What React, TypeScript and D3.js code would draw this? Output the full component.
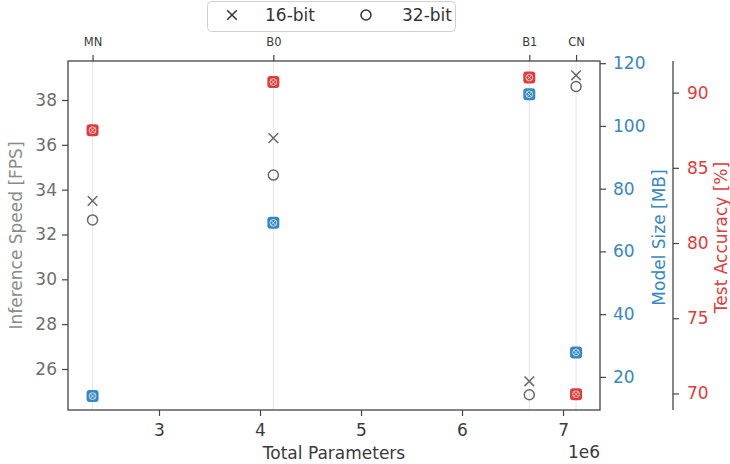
import React, { useRef, useEffect } from "react";
import * as d3 from "d3";

const models = ["MN", "B0", "B1", "CN"];
const params = [2.342e6, 4.132e6, 6.666e6, 7.129e6];
const fps16 = [33.5, 36.3, 25.45, 39.1];
const fps32 = [32.65, 34.65, 24.85, 38.6];
const sizeMB = [13.9, 69.1, 110.1, 27.8];
const accuracy = [87.5, 90.7, 91.0, 69.95];

const xTicks = [3e6, 4e6, 5e6, 6e6, 7e6];
const fpsTicks = [26, 28, 30, 32, 34, 36, 38];
const sizeTicks = [20, 40, 60, 80, 100, 120];
const accTicks = [70, 75, 80, 85, 90];
const legendLabels = ["16-bit", "32-bit"];

const FONT = "DejaVu Sans, sans-serif";
const BLUE = "#3688c4";
const RED = "#df3c3c";
const GRAY = "#6a6a6a";
const SPINE = "#444";

export default function App() {
  const ref = useRef<SVGSVGElement>(null);
  useEffect(() => {
    const svg = d3.select(ref.current);
    svg.selectAll("*").remove();
    const L = 68, R = 600, T = 61, B = 410;
    const x = d3.scaleLinear().domain([2.099e6, 7.366e6]).range([L, R]);
    const yF = d3.scaleLinear().domain([24.17, 39.74]).range([B, T]);
    const yS = d3.scaleLinear().domain([9.45, 120.7]).range([B, T]);
    const yA = d3.scaleLinear().domain([68.9, 92.1]).range([B, T]);

    // gridlines
    svg.append("g").selectAll("line").data(params).join("line")
      .attr("x1", (d) => x(d)).attr("x2", (d) => x(d)).attr("y1", T).attr("y2", B)
      .attr("stroke", "#e6e6e6").attr("stroke-width", 1);

    const styleAxis = (g: any, color: string, size: number) => {
      g.select(".domain").remove();
      g.selectAll("line").attr("stroke", SPINE).attr("stroke-width", 1.2);
      g.selectAll("text").attr("font-family", FONT).attr("font-size", size).attr("fill", color);
    };

    const gl = svg.append("g").attr("transform", `translate(${L},0)`)
      .call(d3.axisLeft(yF).tickValues(fpsTicks).tickSize(6).tickPadding(5));
    styleAxis(gl, "#6e6e6e", 17);

    const gb = svg.append("g").attr("transform", `translate(0,${B})`)
      .call(d3.axisBottom(x).tickValues(xTicks).tickSize(6).tickPadding(8).tickFormat((d: any) => String(d / 1e6)));
    styleAxis(gb, "#3a3a3a", 17);

    const gt = svg.append("g").attr("transform", `translate(0,${T})`)
      .call(d3.axisTop(x).tickValues(params).tickSize(6).tickPadding(9).tickFormat((d: any, i: number) => models[i]));
    styleAxis(gt, "#3a3a3a", 11.5);

    const gs = svg.append("g").attr("transform", `translate(${R},0)`)
      .call(d3.axisRight(yS).tickValues(sizeTicks).tickSize(6).tickPadding(7));
    styleAxis(gs, BLUE, 17);

    const AX = 673;
    const ga = svg.append("g").attr("transform", `translate(${AX},0)`)
      .call(d3.axisRight(yA).tickValues(accTicks).tickSize(6).tickPadding(8));
    styleAxis(ga, RED, 17);

    // spines
    svg.append("rect").attr("x", L).attr("y", T).attr("width", R - L).attr("height", B - T)
      .attr("fill", "none").attr("stroke", SPINE).attr("stroke-width", 1.3);
    svg.append("line").attr("x1", AX).attr("x2", AX).attr("y1", T).attr("y2", B)
      .attr("stroke", SPINE).attr("stroke-width", 1.3);

    // axis labels
    svg.append("text").attr("transform", `translate(22,${(T + B) / 2}) rotate(-90)`)
      .attr("text-anchor", "middle").attr("font-family", FONT).attr("font-size", 17)
      .attr("fill", "#8a8a8a").text("Inference Speed [FPS]");
    svg.append("text").attr("transform", `translate(665,${(T + B) / 2 + 2}) rotate(-90)`)
      .attr("text-anchor", "middle").attr("font-family", FONT).attr("font-size", 17)
      .attr("fill", BLUE).text("Model Size [MB]");
    svg.append("text").attr("transform", `translate(727,${(T + B) / 2 + 2}) rotate(-90)`)
      .attr("text-anchor", "middle").attr("font-family", FONT).attr("font-size", 17)
      .attr("fill", RED).text("Test Accuracy [%]");
    svg.append("text").attr("x", (L + R) / 2).attr("y", 459)
      .attr("text-anchor", "middle").attr("font-family", FONT).attr("font-size", 17)
      .attr("fill", "#3a3a3a").text("Total Parameters");
    svg.append("text").attr("x", R).attr("y", 458)
      .attr("text-anchor", "end").attr("font-family", FONT).attr("font-size", 17)
      .attr("fill", "#3a3a3a").text("1e6");

    const drawX = (g: any, cx: number, cy: number, color: string, h: number, w: number, op = 1) => {
      g.append("path").attr("d", `M${cx - h},${cy - h}L${cx + h},${cy + h}M${cx - h},${cy + h}L${cx + h},${cy - h}`)
        .attr("stroke", color).attr("stroke-width", w).attr("fill", "none").attr("stroke-opacity", op);
    };
    const drawO = (g: any, cx: number, cy: number, color: string, r: number, w: number, op = 1) => {
      g.append("circle").attr("cx", cx).attr("cy", cy).attr("r", r)
        .attr("stroke", color).attr("stroke-width", w).attr("fill", "none").attr("stroke-opacity", op);
    };

    const pts = svg.append("g");
    params.forEach((p, i) => {
      const cx = x(p);
      [[yS(sizeMB[i]), BLUE], [yA(accuracy[i]), RED]].forEach(([cy, c]: any) => {
        pts.append("rect").attr("x", cx - 6).attr("y", cy - 6).attr("width", 12).attr("height", 12)
          .attr("rx", 3).attr("fill", c);
        drawO(pts, cx, cy, "#fff", 3.4, 0.9, 0.75);
        drawX(pts, cx, cy, "#fff", 2.4, 0.9, 0.75);
      });
      drawX(pts, cx, yF(fps16[i]), GRAY, 4.8, 1.5);
      drawO(pts, cx, yF(fps32[i]), GRAY, 5, 1.5);
    });

    // legend
    const lg = svg.append("g");
    lg.append("rect").attr("x", 207.5).attr("y", 1.5).attr("width", 248).attr("height", 30).attr("rx", 4)
      .attr("fill", "#fff").attr("stroke", "#d0d0d0").attr("stroke-width", 1);
    drawX(lg, 232, 15, "#333", 4.8, 1.5);
    drawO(lg, 366, 15, "#333", 5, 1.5);
    lg.append("text").attr("x", 265).attr("y", 21).attr("font-family", FONT).attr("font-size", 17)
      .attr("fill", "#333").text(legendLabels[0]);
    lg.append("text").attr("x", 402).attr("y", 21).attr("font-family", FONT).attr("font-size", 17)
      .attr("fill", "#333").text(legendLabels[1]);
  }, []);
  return (
    <svg ref={ref} width={730} height={464}
      style={{ position: "absolute", left: 0, top: 0, background: "#fff" }} />
  );
}
